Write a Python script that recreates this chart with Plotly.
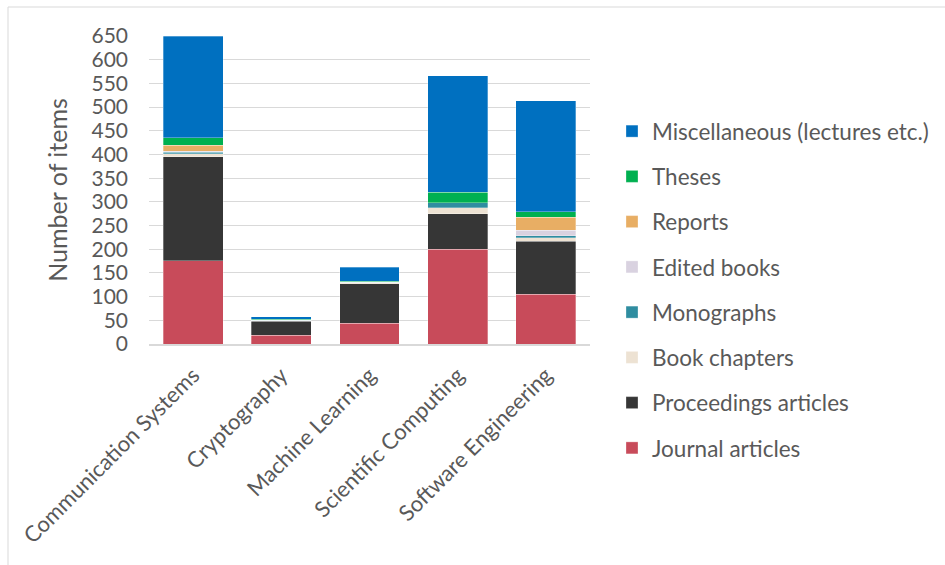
import plotly.graph_objects as go

categories = ["Communication Systems", "Cryptography", "Machine Learning",
              "Scientific Computing", "Software Engineering"]

journal = [176, 18, 44, 200, 105]
proceedings = [219, 30, 83, 75, 112]
book_chapters = [7, 1, 2, 13, 7]
monographs = [3, 1, 1, 10, 4]
edited_books = [2, 0, 0, 0, 12]
reports = [12, 0, 0, 0, 28]
theses = [16, 2, 2, 22, 11]
misc = [215, 5, 30, 246, 234]

y_ticks = list(range(0, 651, 50))

series = [
    ("Journal articles", journal, "#C84B5A"),
    ("Proceedings articles", proceedings, "#363636"),
    ("Book chapters", book_chapters, "#EDE2D3"),
    ("Monographs", monographs, "#2F8DA0"),
    ("Edited books", edited_books, "#D9D2E0"),
    ("Reports", reports, "#E8AE64"),
    ("Theses", theses, "#00B050"),
    ("Miscellaneous (lectures etc.)", misc, "#0070C0"),
]

FONT = "Lato"
GRAY = "#595959"

fig = go.Figure()
n = len(series)
for i, (name, vals, col) in enumerate(series):
    fig.add_trace(go.Bar(
        x=categories, y=vals, name=name, legendgroup=str(i),
        legendrank=n - i,
        marker=dict(color=col, line=dict(color="rgba(255,255,255,0.6)", width=0.5)),
    ))

L, R, T, B = 149, 590, 36, 344
W, H = 945, 565
pw, ph = R - L, B - T

def px(x):
    return (x - L) / pw

def py(y):
    return (B - y) / ph

fig.update_layout(
    width=W, height=H,
    margin=dict(l=L, r=W - R, t=T, b=H - B, pad=0, autoexpand=False),
    barmode="stack", bargap=0.32,
    plot_bgcolor="white", paper_bgcolor="white",
    font=dict(family=FONT, color=GRAY, size=20),
    legend=dict(
        x=px(612), y=1 - 110 / H, xanchor="left", yanchor="top", yref="container",
        traceorder="grouped", tracegroupgap=13,
        font=dict(family=FONT, size=22.5, color=GRAY),
        itemwidth=30, maxheight=450,
    ),
    xaxis=dict(
        tickangle=-45, showline=True, linecolor="#D9D9D9", linewidth=1.5,
        ticks="", tickfont=dict(size=22, color=GRAY), ticklabelstandoff=8,
        automargin=False,
    ),
    yaxis=dict(
        range=[0, 650], tickvals=y_ticks, showgrid=True, gridcolor="#D9D9D9",
        gridwidth=1, zeroline=False, ticks="", ticklabelstandoff=20,
        tickfont=dict(size=21, color=GRAY), automargin=False,
        title=dict(text="Number of items", font=dict(size=25, color=GRAY), standoff=16),
    ),
    shapes=[
        dict(type="line", xref="paper", yref="paper", x0=px(8), x1=px(950),
             y0=py(7), y1=py(7), line=dict(color="#D9D9D9", width=1)),
        dict(type="line", xref="paper", yref="paper", x0=px(8), x1=px(8),
             y0=py(7), y1=py(570), line=dict(color="#D9D9D9", width=1)),
    ],
)

fig.write_html("out.html")
